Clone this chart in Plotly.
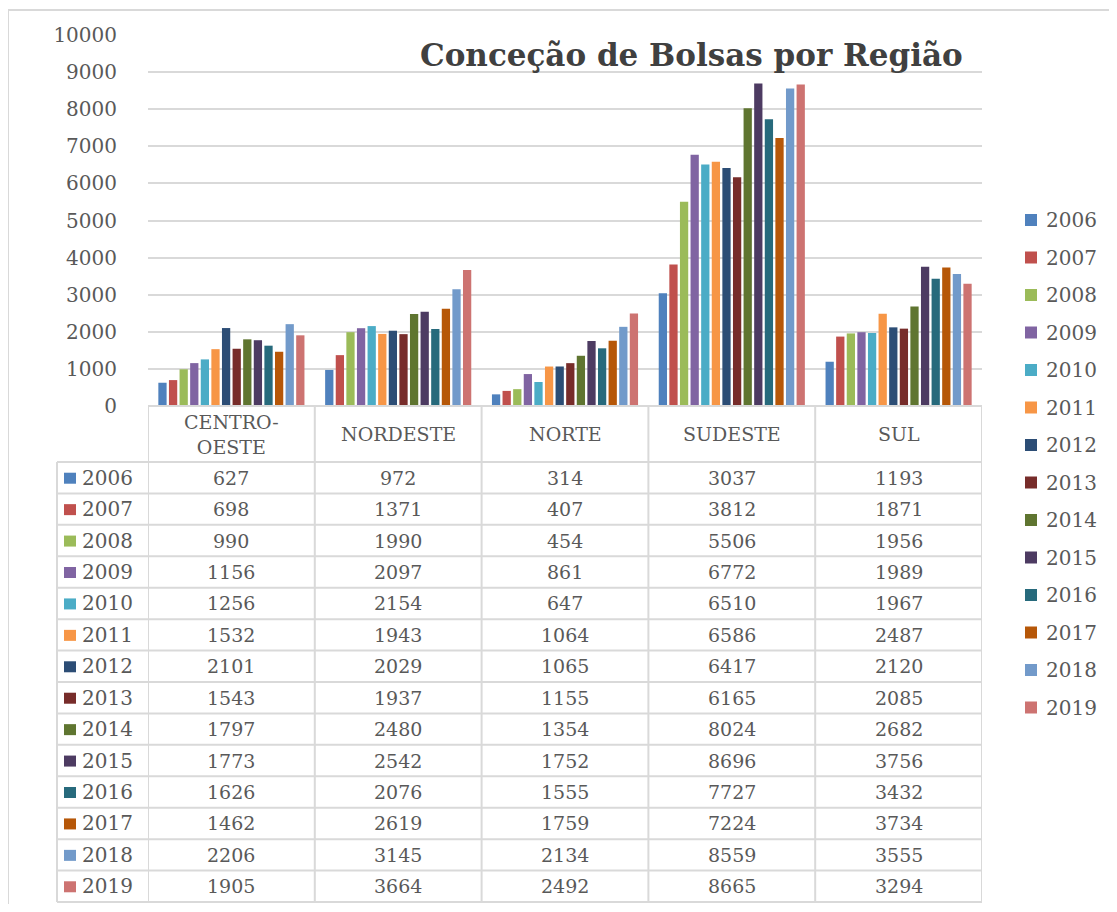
import plotly.graph_objects as go

regions = ["CENTRO-OESTE", "NORDESTE", "NORTE", "SUDESTE", "SUL"]
region_labels = ["CENTRO-<br>OESTE", "NORDESTE", "NORTE", "SUDESTE", "SUL"]
years = ["2006", "2007", "2008", "2009", "2010", "2011", "2012",
         "2013", "2014", "2015", "2016", "2017", "2018", "2019"]

v2006 = [627, 972, 314, 3037, 1193]
v2007 = [698, 1371, 407, 3812, 1871]
v2008 = [990, 1990, 454, 5506, 1956]
v2009 = [1156, 2097, 861, 6772, 1989]
v2010 = [1256, 2154, 647, 6510, 1967]
v2011 = [1532, 1943, 1064, 6586, 2487]
v2012 = [2101, 2029, 1065, 6417, 2120]
v2013 = [1543, 1937, 1155, 6165, 2085]
v2014 = [1797, 2480, 1354, 8024, 2682]
v2015 = [1773, 2542, 1752, 8696, 3756]
v2016 = [1626, 2076, 1555, 7727, 3432]
v2017 = [1462, 2619, 1759, 7224, 3734]
v2018 = [2206, 3145, 2134, 8559, 3555]
v2019 = [1905, 3664, 2492, 8665, 3294]
series = [v2006, v2007, v2008, v2009, v2010, v2011, v2012,
          v2013, v2014, v2015, v2016, v2017, v2018, v2019]

colors = ["#4F81BD", "#C0504D", "#9BBB59", "#8064A2", "#4BACC6", "#F79646", "#2C4D75",
          "#772C2A", "#5F7530", "#4D3B62", "#276A7C", "#B65708", "#729ACA", "#CD7371"]

# page body has an 8px margin; work in screen pixels and subtract it
OFF = 8
W, H = 1117 - 2 * OFF, 912 - 2 * OFF
L, R, T, B = 148, 982, 35, 406  # plot area in screen pixels
FONT = "DejaVu Serif"
GRAY = "#595959"
LINE = "#D9D9D9"
FS = 19

def px(x):
    return (x - L) / (R - L)

def py(y):
    return (B - y) / (B - T)

fig = go.Figure()
for yr, vals, col in zip(years, series, colors):
    fig.add_trace(go.Bar(
        x=list(range(len(regions))), y=vals, name=yr,
        marker=dict(color=col, line=dict(width=0)),
        hovertext=regions, showlegend=False,
    ))

shapes = []
annotations = []

# outer chart border (top and left visible; right/bottom run off the picture)
shapes.append(dict(type="rect", xref="paper", yref="paper",
                   x0=px(8), x1=px(1140), y0=py(940), y1=py(10),
                   line=dict(color=LINE, width=2), layer="below"))

# data table
row_top = 462
row_bot = 902
nrows = len(years)
rh = (row_bot - row_top) / nrows

for k in range(len(regions) + 1):
    shapes.append(dict(type="line", xref="x", yref="paper",
                       x0=k - 0.5, x1=k - 0.5, y0=py(B), y1=py(row_bot),
                       line=dict(color=LINE, width=2)))
shapes.append(dict(type="line", xref="paper", yref="paper",
                   x0=px(57), x1=px(57), y0=py(row_top), y1=py(row_bot),
                   line=dict(color=LINE, width=2)))
shapes.append(dict(type="line", xref="x", yref="paper",
                   x0=-0.5, x1=len(regions) - 0.5, y0=py(B), y1=py(B),
                   line=dict(color=LINE, width=2)))
for r in range(nrows + 1):
    yy = row_top + r * rh
    shapes.append(dict(type="line", xref="paper", yref="paper",
                       x0=px(57), x1=px(R), y0=py(yy), y1=py(yy),
                       line=dict(color=LINE, width=2)))

for k, lab in enumerate(region_labels):
    annotations.append(dict(xref="x", yref="paper", x=k, y=py((B + row_top) / 2),
                            text=lab, showarrow=False,
                            font=dict(family=FONT, size=19, color=GRAY),
                            xanchor="center", yanchor="middle"))

for r, (yr, vals, col) in enumerate(zip(years, series, colors)):
    yc = row_top + (r + 0.5) * rh
    shapes.append(dict(type="rect", xref="paper", yref="paper",
                       x0=px(64), x1=px(76), y0=py(yc - 5), y1=py(yc + 6),
                       fillcolor=col, line=dict(width=0)))
    annotations.append(dict(xref="paper", yref="paper", x=px(80), y=py(yc),
                            text=yr, showarrow=False,
                            font=dict(family=FONT, size=20, color=GRAY),
                            xanchor="left", yanchor="middle"))
    for k, v in enumerate(vals):
        annotations.append(dict(xref="x", yref="paper", x=k, y=py(yc),
                                text=str(v), showarrow=False,
                                font=dict(family=FONT, size=FS, color=GRAY),
                                xanchor="center", yanchor="middle"))

# legend on the right (drawn manually so all 14 entries fit)
leg_top = 220
leg_step = 37.5
for i, (yr, col) in enumerate(zip(years, colors)):
    yc = leg_top + i * leg_step
    shapes.append(dict(type="rect", xref="paper", yref="paper",
                       x0=px(1025), x1=px(1037), y0=py(yc - 6), y1=py(yc + 6),
                       fillcolor=col, line=dict(width=0)))
    annotations.append(dict(xref="paper", yref="paper", x=px(1044), y=py(yc),
                            text=yr, showarrow=False,
                            font=dict(family=FONT, size=20, color=GRAY),
                            xanchor="left", yanchor="middle"))

annotations.append(dict(xref="paper", yref="paper", x=px(691), y=py(55),
                        text="<b>Conceção de Bolsas por Região</b>", showarrow=False,
                        font=dict(family=FONT, size=31, color="#404040"),
                        xanchor="center", yanchor="middle"))

fig.update_layout(
    width=W, height=H,
    margin=dict(l=L - OFF, r=W - (R - OFF), t=T - OFF, b=H - (B - OFF), autoexpand=False),
    paper_bgcolor="white", plot_bgcolor="white",
    barmode="group", bargap=0.11, bargroupgap=0.22,
    showlegend=False,
    shapes=shapes, annotations=annotations,
    xaxis=dict(range=[-0.5, len(regions) - 0.5], showticklabels=False,
               showgrid=False, zeroline=False, showline=False, fixedrange=True),
    yaxis=dict(range=[0, 10000], dtick=1000, tickformat="d",
               showgrid=True, gridcolor=LINE, gridwidth=2,
               zeroline=False, showline=False,
               tickfont=dict(family=FONT, size=20, color=GRAY),
               ticklabelstandoff=30),
)

fig.write_html("out.html")
